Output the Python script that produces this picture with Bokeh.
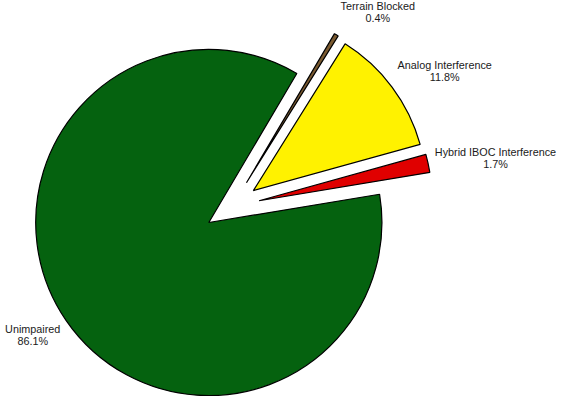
import math
from bokeh.plotting import figure
from bokeh.models import ColumnDataSource, Range1d
from bokeh.core.properties import value
from bokeh.embed import file_html
from bokeh.resources import INLINE

# ---- data ----
categories = ["Hybrid IBOC Interference", "Analog Interference", "Terrain Blocked", "Unimpaired"]
percents = [1.7, 11.8, 0.4, 86.1]
exploded = [True, True, True, False]
colors = ["#E00000", "#FFF200", "#7A5A30", "#05620F"]

# ---- layout / style constants (units: reference pixels) ----
S = 0.978            # screen px per data unit
CX, CY = 220.0, 179.0
R = 177.0
START_DEG = 9.4
EXPLODE = 56.0
FONT_PX = 10.8
LABEL_R = 1.04
LABEL_YSHIFT = 20.0

# Arial / Liberation Sans advance widths (per 1000 em)
AFM = {' ': 278, '.': 278, '%': 889, 'A': 667, 'B': 667, 'C': 722, 'H': 722, 'I': 278,
       'O': 778, 'T': 611, 'U': 722, 'a': 556, 'b': 556, 'c': 500, 'd': 556, 'e': 556,
       'f': 278, 'g': 556, 'i': 222, 'k': 500, 'l': 222, 'm': 833, 'n': 556, 'o': 556,
       'p': 556, 'r': 333, 't': 278, 'y': 500}


def text_w(s):
    return max(sum(AFM.get(ch, 556) for ch in line) for line in s.split("\n")) * FONT_PX / 1000.0


total = sum(percents)
starts, ends = [], []
a = math.radians(START_DEG)
for v in percents:
    starts.append(a)
    a += 2 * math.pi * v / total
    ends.append(a)

ex_idx = [i for i, e in enumerate(exploded) if e]
group_mid = (starts[ex_idx[0]] + ends[ex_idx[-1]]) / 2

xs, ys, lx, ly, labels = [], [], [], [], []
for i, (c, v) in enumerate(zip(categories, percents)):
    m = (starts[i] + ends[i]) / 2
    if exploded[i]:
        d = (m + group_mid) / 2
        ax, ay = CX + EXPLODE * math.cos(d), CY + EXPLODE * math.sin(d)
    else:
        ax, ay = CX, CY
    xs.append(ax)
    ys.append(ay)
    lab = f"{c}\n{v:.1f}%"
    labels.append(lab)
    w = text_w(lab) / S
    px = ax + LABEL_R * R * math.cos(m)
    py = ay + LABEL_R * R * math.sin(m)
    sgn = 1 if math.cos(m) >= 0 else -1
    lx.append(px + sgn * w / 2)
    ly.append(py + LABEL_YSHIFT * math.sin(m))

src = ColumnDataSource(dict(x=xs, y=ys, start=starts, end=ends, color=colors))
lsrc = ColumnDataSource(dict(x=lx, y=ly, text=labels))

W, H = 558, 396
x0, y0 = 7.0, 1.1
p = figure(width=W, height=H, output_backend="svg", toolbar_location=None,
           x_range=Range1d(x0, x0 + W / S), y_range=Range1d(y0, y0 + H / S),
           x_axis_location=None, y_axis_location=None, min_border=0)
p.grid.visible = False
p.outline_line_color = None
p.background_fill_color = "white"
p.border_fill_color = "white"

p.wedge(x="x", y="y", radius=R, start_angle="start", end_angle="end", source=src,
        fill_color="color", line_color="black", line_width=1.2)
p.text(x="x", y="y", text="text", source=lsrc, text_align="center", text_baseline="middle",
       text_font=value("Liberation Sans"), text_font_size=f"{FONT_PX}px",
       text_color="#1a1a1a", text_line_height=1.0)

open("out.html", "w").write(file_html(p, INLINE))
